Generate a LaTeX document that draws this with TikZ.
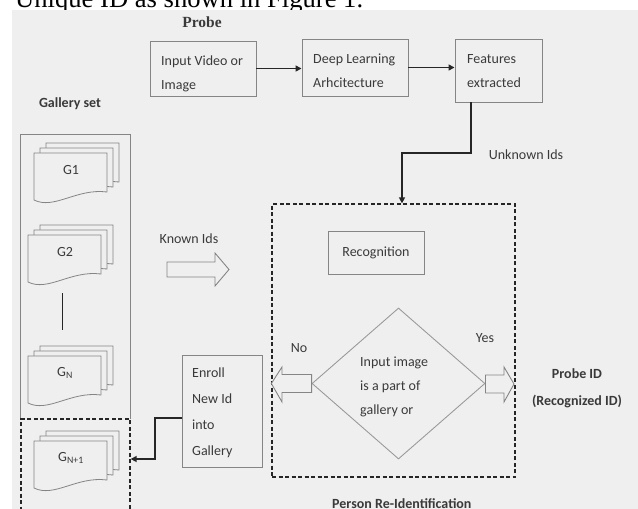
\documentclass[tikz,border=0pt]{standalone}
\usepackage{fontspec}
\setmainfont{Carlito}
\newfontfamily\timesfont{Liberation Serif}
\usetikzlibrary{arrows.meta,shapes.geometric,calc}
\definecolor{bg}{HTML}{EFEFEF}
\definecolor{boxline}{HTML}{858585}
\definecolor{diamline}{HTML}{9A9A9A}
\definecolor{txt}{HTML}{3A3A3A}
\definecolor{dark}{HTML}{262626}

\newcommand\GalDoc[4]{%
  \foreach \o in {12,6,0} {
    \draw[sheet] (#1+\o,#2-\o*5/6) -- ++(73,0) -- ++(0,39)
      .. controls +(-30,-4) and +(20,10) .. (#1+\o,#2-\o*5/6+47) -- cycle;
  }
  \node[lbl] (#4) at (#1+37,#2+17) {#3};
}

\begin{document}
\begin{tikzpicture}[x=1pt,y=-1pt,
  box/.style={draw=boxline, line width=0.9pt, inner sep=0pt},
  lbl/.style={text=txt, font=\fontsize{14}{24}\selectfont, inner sep=0pt, align=left},
  blbl/.style={text=txt, font=\bfseries\fontsize{14}{24}\selectfont, inner sep=0pt, align=center},
  arr/.style={draw=dark, line width=1.5pt, -{Triangle[length=6pt,width=6pt]}},
  dbox/.style={draw=dark, line width=1.3pt, dash pattern=on 4pt off 2.5pt, inner sep=0pt},
  sheet/.style={draw=boxline, line width=0.8pt, fill=bg},
  blockarrow/.style={draw=boxline, line width=0.9pt, fill=bg, line join=miter}]

\useasboundingbox (0,0) rectangle (638,509);
\clip (0,0) rectangle (638,509);
\fill[white] (0,0) rectangle (638,509);
\node[anchor=base west, inner sep=0pt, font=\timesfont\fontsize{26.6}{30}\selectfont, text=black] (toptext) at (15,7) {Unique ID as shown in Figure 1.};
\fill[bg] (12,10) rectangle (638,509);

% headings
\node[text=txt, inner sep=0pt, font=\timesfont\bfseries\fontsize{15.5}{18}\selectfont] (probe) at (202,22) {Probe};
\node[blbl] (galset) at (70,104) {Gallery set};

% top row
\node[box, minimum width=106pt, minimum height=55pt] (input) at (203,68.5) {};
\node[lbl, anchor=west] (inputtxt) at (161,74) {Input Video or\\Image};
\node[box, minimum width=106pt, minimum height=57pt] (dl) at (355,67.5) {};
\node[lbl, anchor=west] (dltxt) at (313,71) {Deep Learning\\Arhcitecture};
\node[box, minimum width=87pt, minimum height=63pt] (feat) at (498.5,70.5) {};
\node[lbl, anchor=west] (feattxt) at (467,71) {Features\\extracted};

\draw[arr] (input.east) -- (input.east -| dl.west);
\draw[arr] (dl.east) -- (dl.east -| feat.west);

% re-identification block
\node[dbox, minimum width=243pt, minimum height=273pt] (reid) at (393.5,340.5) {};
\coordinate (fx) at (471,0);
\coordinate (dx) at (402,0);
\draw[arr] (feat.south -| fx) |- (402,153) -- (reid.north -| dx);
\node[lbl] (unk) at (526,155) {Unknown Ids};

\node[box, lbl, draw=boxline, minimum width=96pt, minimum height=43pt] (recog) at (376,252.5) {Recognition};
\node[draw=diamline, line width=0.9pt, shape=diamond, minimum width=173pt, minimum height=151pt, inner sep=0pt] (dec) at (398.5,383.5) {};
\node[lbl, anchor=west] (dectxt) at (360,387) {Input image\\is a part of\\gallery or};

% No / Yes block arrows
\draw[blockarrow] ($(dec.west)+(0,-9)$) -- (282,374.5) -- (282,367) -- (reid.west |- dec.west) -- (282,402) -- (282,392.5) -- ($(dec.west)+(0,9)$) -- cycle;
\draw[blockarrow] ($(dec.east)+(0,-8.5)$) -- (504,375) -- (504,367) -- (514,384) -- (504,402) -- (504,393) -- ($(dec.east)+(0,9.5)$) -- cycle;
\node[lbl] (no) at (299,348) {No};
\node[lbl] (yes) at (485,338) {Yes};

\node[blbl] (pid) at (577,374) {Probe ID};
\node[blbl] (rid) at (577,401) {(Recognized ID)};
\node[blbl, anchor=base west] (preid) at (332,508.5) {Person Re-Identification};

% known ids
\node[lbl] (known) at (189,239) {Known Ids};
\draw[blockarrow] (167,262) -- (215,262) -- (215,253) -- (229,269.5) -- (215,286) -- (215,277) -- (167,277) -- cycle;

% enroll
\node[box, minimum width=80pt, minimum height=112pt] (enroll) at (222,411) {};
\node[lbl, anchor=west, font=\fontsize{14}{26}\selectfont] (enrolltxt) at (192,412.5) {Enroll\\New Id\\into\\Gallery};

% gallery
\node[minimum width=109pt, minimum height=284pt, inner sep=0pt] (gal) at (75.5,277) {};
\draw[draw=boxline, line width=0.9pt] (gal.south west) -- (gal.north west) -- (gal.north east) -- (gal.south east);
\node[dbox, minimum width=109pt, minimum height=130pt] (gnp) at (75.5,484) {};

\GalDoc{34}{153}{G1}{g1}
\GalDoc{28}{235}{G2}{g2}
\GalDoc{28}{356}{G\textsubscript{N}}{gn}
\GalDoc{34}{441}{G\textsubscript{N+1}}{gnn}
\draw[draw=dark, line width=0.8pt] (62,293) -- (62,330);

\coordinate (ey) at (0,418);
\coordinate (gy) at (0,459);
\draw[arr] (enroll.west |- ey) -- (155,418) |- (gnp.east |- gy);

\end{tikzpicture}
\end{document}
